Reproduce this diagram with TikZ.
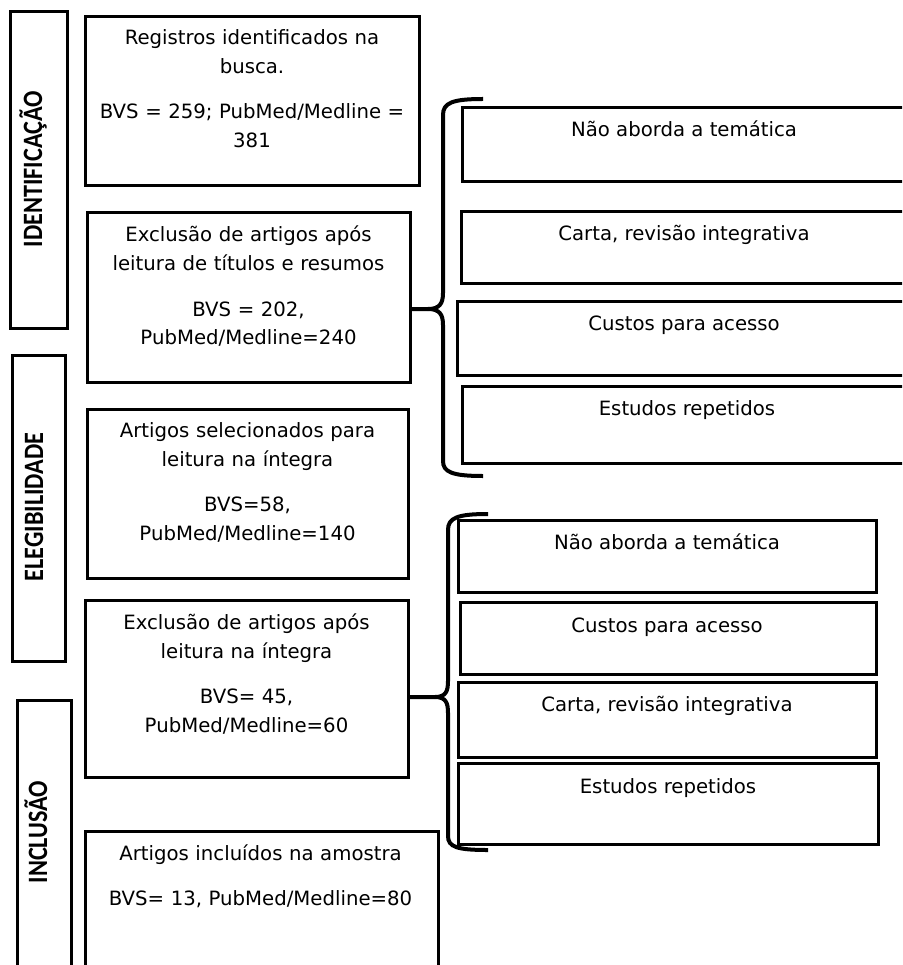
\documentclass[tikz,border=0pt]{standalone}
\usepackage{fontspec}
\setmainfont{DejaVu Sans}
\newfontfamily\lblfamily{Carlito}
\begin{document}
\begin{tikzpicture}[x=1pt,y=-1pt,
  box/.style={draw, line width=3pt, inner sep=0pt, outer sep=0pt},
  txt/.style={inner sep=0pt, font=\fontsize{19.7}{29}\selectfont},
  para/.style={txt, align=center, text width=340pt, anchor=base},
  one/.style={txt, anchor=base},
  lbl/.style={inner sep=0pt, font=\lblfamily\bfseries\fontsize{28}{30}\selectfont, rotate=90, xscale=0.865, anchor=base},
  brace/.style={line width=4pt}]
\useasboundingbox (0,0) rectangle (902,965);
\clip (0,0) rectangle (902,965);

% phase labels
\node[box, minimum width=57pt, minimum height=316pt] (L1) at (38.5,170) {};
\node[lbl] (L1t) at (42,169) {IDENTIFICAÇÃO};
\node[box, minimum width=53pt, minimum height=306pt] (L2) at (38.5,508) {};
\node[lbl] (L2t) at (43,507) {ELEGIBILIDADE};
\node[box, minimum width=54pt, minimum height=280pt] (L3) at (44,840) {};
\node[lbl] (L3t) at (47,832) {INCLUSÃO};

% main boxes
\node[box, minimum width=334pt, minimum height=169pt] (b1) at (252,101.5) {};
\node[para] (b1t) at (252,45) {Registros identificados na\\busca.\\[16pt]BVS = 259; PubMed/Medline =\\381};
\node[box, minimum width=323pt, minimum height=169pt] (b2) at (248.5,297.5) {};
\node[para] (b2t) at (248.5,242) {Exclusão de artigos após\\leitura de títulos e resumos\\[16pt]BVS = 202,\\PubMed/Medline=240};
\node[box, minimum width=321pt, minimum height=169pt] (b3) at (247.5,493.5) {};
\node[para] (b3t) at (247.5,437) {Artigos selecionados para\\leitura na íntegra\\[16pt]BVS=58,\\PubMed/Medline=140};
\node[box, minimum width=323pt, minimum height=177pt] (b4) at (246.5,688.5) {};
\node[para] (b4t) at (246.5,629) {Exclusão de artigos após\\leitura na íntegra\\[16pt]BVS= 45,\\PubMed/Medline=60};
\node[box, minimum width=353pt, minimum height=150pt] (b5) at (261.5,906) {};
\node[para] (b5t) at (260.5,860) {Artigos incluídos na amostra\\[16pt]BVS= 13, PubMed/Medline=80};

% right group 1
\node[box, minimum width=444pt, minimum height=74pt] (r1) at (684,145) {};
\node[one] (r1t) at (684,137) {Não aborda a temática};
\node[box, minimum width=445pt, minimum height=71pt] (r2) at (683.5,247.5) {};
\node[one] (r2t) at (684,240.5) {Carta, revisão integrativa};
\node[box, minimum width=449pt, minimum height=74pt] (r3) at (681.5,338) {};
\node[one] (r3t) at (684,330) {Custos para acesso};
\node[box, minimum width=444pt, minimum height=77pt] (r4) at (684,424.5) {};
\node[one] (r4t) at (687,415) {Estudos repetidos};

% right group 2
\node[box, minimum width=418pt, minimum height=72pt] (s1) at (667,556) {};
\node[one] (s1t) at (667,549) {Não aborda a temática};
\node[box, minimum width=416pt, minimum height=72pt] (s2) at (668,638) {};
\node[one] (s2t) at (667,632) {Custos para acesso};
\node[box, minimum width=418pt, minimum height=75pt] (s3) at (667,719.5) {};
\node[one] (s3t) at (667,711) {Carta, revisão integrativa};
\node[box, minimum width=420pt, minimum height=81pt] (s4) at (668,803.5) {};
\node[one] (s4t) at (668,793) {Estudos repetidos};

% braces
\coordinate (k1) at (428,309);
\draw[brace] (b2.east |- k1) -- (k1) .. controls (440,309) and (443,303) .. (443,293) -- (443,115) .. controls (443,103) and (452,99) .. (483,99);
\draw[brace] (k1) .. controls (440,309) and (443,315) .. (443,325) -- (443,461) .. controls (443,472) and (452,476) .. (483,476);
\coordinate (k2) at (435,697);
\draw[brace] (b4.east |- k2) -- (k2) .. controls (446,697) and (448,691) .. (448,681) -- (448,530) .. controls (448,518) and (457,514) .. (488,514);
\draw[brace] (k2) .. controls (446,697) and (448,703) .. (448,713) -- (448,836) .. controls (448,847) and (457,850) .. (488,850);
\end{tikzpicture}
\end{document}
